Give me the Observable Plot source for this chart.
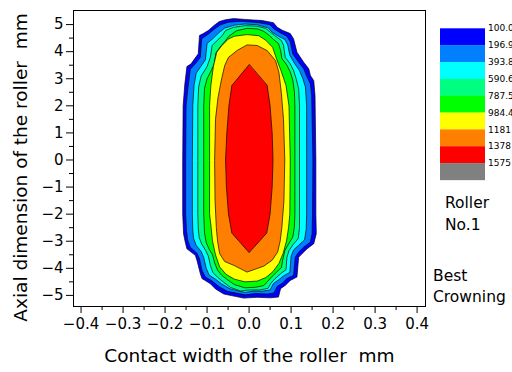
<!DOCTYPE html>
<html>
<head>
<meta charset="utf-8">
<script src="https://cdn.jsdelivr.net/npm/d3@7"></script>
<script src="https://cdn.jsdelivr.net/npm/@observablehq/plot@0.6"></script>
<style>
  html, body { margin: 0; padding: 0; background: #fff; }
  #chart { position: relative; width: 512px; height: 372px; overflow: hidden; }
  #chart svg { position: absolute; left: 0; top: 0; }
</style>
</head>
<body>
<div id="chart"></div>
<script>
// Contact pressure levels (lower bound of each colour band)
const levels = [100.0, 196.9, 393.8, 590.6, 787.5, 984.4, 1181, 1378, 1575];
const levelLabels = ["100.0", "196.9", "393.8", "590.6", "787.5", "984.4", "1181", "1378", "1575"];
const bandColors = ["#0000ff", "#0080ff", "#00ffff", "#00ff80", "#00ff00", "#ffff00", "#ff8000", "#ff0000", "#808080"];

// Tick values
const xTicks = [-0.4, -0.3, -0.2, -0.1, 0, 0.1, 0.2, 0.3, 0.4];
const xMinor = [-0.35, -0.25, -0.15, -0.05, 0.05, 0.15, 0.25, 0.35];
const yTicks = [-5, -4, -3, -2, -1, 0, 1, 2, 3, 4, 5];
const yMinor = [-4.5, -3.5, -2.5, -1.5, -0.5, 0.5, 1.5, 2.5, 3.5, 4.5];

const xLabel = "Contact width of the roller\u00a0\u00a0mm";
const yLabel = "Axial dimension of the roller\u00a0\u00a0mm";

// Iso-pressure outlines [contact width mm, axial position mm], one closed ring per level
const ring100 = [[-0.158,0],[-0.157,2.0],[-0.153,2.8],[-0.148,3.45],[-0.138,3.55],[-0.13,3.73],[-0.121,3.92],[-0.118,4.6],[-0.11,4.66],[-0.097,4.78],[-0.084,4.96],[-0.071,5.11],[-0.056,5.18],[-0.037,5.22],[-0.009,5.19],[0.031,5.15],[0.058,5.07],[0.067,4.9],[0.079,4.79],[0.098,4.67],[0.106,4.47],[0.114,3.98],[0.13,3.61],[0.142,3.37],[0.146,3.12],[0.154,2.93],[0.157,2.38],[0.159,0],[0.159,-2.0],[0.16,-2.72],[0.154,-3.09],[0.138,-3.28],[0.126,-3.46],[0.118,-3.59],[0.114,-4.32],[0.098,-4.45],[0.086,-4.63],[0.075,-4.75],[0.07,-5.06],[0.051,-5.09],[0.019,-5.07],[-0.013,-5.1],[-0.06,-4.95],[-0.08,-4.76],[-0.092,-4.57],[-0.112,-4.38],[-0.116,-4.2],[-0.124,-3.71],[-0.128,-3.52],[-0.148,-3.28],[-0.152,-3.03],[-0.156,-2.72],[-0.158,-2.0]];
const ring197 = [[-0.151,0],[-0.15,2.0],[-0.146,2.6],[-0.14,3.35],[-0.128,3.55],[-0.116,3.79],[-0.113,4.47],[-0.096,4.66],[-0.082,4.84],[-0.068,4.99],[-0.049,5.09],[-0.017,5.12],[0.023,5.07],[0.05,4.99],[0.059,4.84],[0.075,4.69],[0.09,4.57],[0.098,4.37],[0.104,3.92],[0.118,3.61],[0.13,3.37],[0.138,3.06],[0.146,2.81],[0.149,2.38],[0.152,0],[0.151,-2.0],[0.15,-2.72],[0.146,-3.03],[0.13,-3.22],[0.118,-3.4],[0.11,-3.59],[0.106,-4.26],[0.09,-4.38],[0.079,-4.55],[0.067,-4.67],[0.059,-4.91],[0.043,-4.95],[0.015,-4.93],[-0.009,-4.98],[-0.052,-4.85],[-0.072,-4.67],[-0.088,-4.47],[-0.104,-4.32],[-0.112,-4.08],[-0.118,-3.65],[-0.124,-3.44],[-0.14,-3.22],[-0.146,-2.97],[-0.149,-2.6],[-0.151,-2.0]];
const ring394 = [[-0.135,0],[-0.134,2.0],[-0.131,2.75],[-0.126,3.2],[-0.115,3.45],[-0.104,3.7],[-0.1,4.3],[-0.085,4.5],[-0.072,4.7],[-0.058,4.87],[-0.035,4.98],[-0.01,5.02],[0.02,4.99],[0.045,4.88],[0.055,4.72],[0.07,4.57],[0.085,4.45],[0.092,4.25],[0.097,3.87],[0.108,3.57],[0.12,3.3],[0.128,3.0],[0.134,2.7],[0.137,2.0],[0.137,0],[0.137,-2.0],[0.136,-2.55],[0.132,-2.95],[0.118,-3.15],[0.106,-3.32],[0.1,-3.55],[0.097,-4.15],[0.082,-4.28],[0.07,-4.43],[0.058,-4.56],[0.05,-4.8],[0.033,-4.84],[0.01,-4.84],[-0.01,-4.89],[-0.045,-4.76],[-0.065,-4.58],[-0.08,-4.4],[-0.095,-4.25],[-0.102,-4.0],[-0.108,-3.6],[-0.114,-3.38],[-0.126,-3.15],[-0.132,-2.9],[-0.134,-2.6],[-0.135,-2.0]];
const ring591 = [[-0.122,0],[-0.122,2.0],[-0.12,2.7],[-0.114,3.1],[-0.1,3.45],[-0.092,3.8],[-0.088,4.23],[-0.076,4.41],[-0.064,4.59],[-0.056,4.78],[-0.037,4.9],[-0.009,4.96],[0.019,4.94],[0.039,4.86],[0.051,4.72],[0.063,4.57],[0.077,4.41],[0.082,4.23],[0.086,3.79],[0.098,3.55],[0.106,3.3],[0.112,3.0],[0.118,2.63],[0.12,2.0],[0.12,0],[0.12,-2.0],[0.12,-2.5],[0.117,-2.9],[0.105,-3.12],[0.095,-3.35],[0.09,-3.6],[0.088,-4.05],[0.075,-4.2],[0.062,-4.38],[0.052,-4.55],[0.045,-4.74],[0.025,-4.8],[0.0,-4.8],[-0.02,-4.84],[-0.045,-4.7],[-0.06,-4.52],[-0.075,-4.33],[-0.086,-4.16],[-0.092,-3.9],[-0.097,-3.55],[-0.103,-3.35],[-0.113,-3.1],[-0.119,-2.85],[-0.121,-2.5],[-0.122,-2.0]];
const ring788 = [[-0.108,0],[-0.108,2.0],[-0.106,2.65],[-0.1,3.0],[-0.09,3.3],[-0.083,3.55],[-0.079,3.95],[-0.069,4.17],[-0.058,4.37],[-0.048,4.57],[-0.03,4.77],[-0.005,4.86],[0.02,4.84],[0.035,4.75],[0.048,4.6],[0.058,4.45],[0.07,4.3],[0.075,4.05],[0.078,3.75],[0.09,3.5],[0.098,3.25],[0.104,2.95],[0.108,2.5],[0.109,2.0],[0.109,0],[0.109,-2.0],[0.108,-2.45],[0.104,-2.85],[0.094,-3.1],[0.085,-3.35],[0.08,-3.7],[0.077,-3.97],[0.066,-4.13],[0.055,-4.3],[0.045,-4.47],[0.035,-4.64],[0.015,-4.7],[-0.01,-4.72],[-0.035,-4.6],[-0.05,-4.44],[-0.065,-4.26],[-0.075,-4.07],[-0.082,-3.8],[-0.087,-3.5],[-0.095,-3.3],[-0.102,-3.05],[-0.106,-2.7],[-0.108,-2.0]];
const ring984 = [[-0.094,0],[-0.094,2.0],[-0.091,2.75],[-0.085,3.45],[-0.077,3.98],[-0.065,4.22],[-0.05,4.46],[-0.035,4.57],[-0.005,4.63],[0.023,4.59],[0.04,4.42],[0.056,4.16],[0.065,3.75],[0.076,3.3],[0.088,2.75],[0.095,2.0],[0.098,0],[0.097,-2.0],[0.094,-2.5],[0.089,-3.0],[0.081,-3.45],[0.071,-3.82],[0.057,-4.12],[0.04,-4.34],[0.02,-4.47],[-0.01,-4.5],[-0.035,-4.4],[-0.055,-4.22],[-0.07,-3.95],[-0.08,-3.5],[-0.087,-3.0],[-0.091,-2.4],[-0.094,-2.0]];
const ring1181 = [[-0.082,0],[-0.08,1.5],[-0.074,2.3],[-0.066,2.95],[-0.058,3.49],[-0.049,3.79],[-0.028,4.05],[-0.005,4.25],[0.019,4.23],[0.043,4.04],[0.063,3.67],[0.071,3.24],[0.077,2.45],[0.082,1.5],[0.085,0],[0.083,-1.5],[0.078,-2.5],[0.074,-3.0],[0.068,-3.4],[0.055,-3.7],[0.035,-3.92],[-0.005,-4.14],[-0.035,-3.9],[-0.058,-3.75],[-0.07,-3.46],[-0.075,-3.0],[-0.078,-2.5],[-0.081,-1.5]];
const ring1378 = [[0,3.52],[-0.041,2.75],[-0.048,2.0],[-0.053,1.0],[-0.056,0],[-0.054,-1.0],[-0.049,-2.0],[-0.041,-2.7],[0,-3.42],[0.042,-2.7],[0.05,-2.0],[0.055,-1.0],[0.057,0],[0.055,1.0],[0.05,2.0],[0.043,2.75]];

const rings = [ring100, ring197, ring394, ring591, ring788, ring984, ring1181, ring1378];

// Long-format table for the line mark: outer bands first so inner ones paint on top
const contourRows = rings.flatMap((ring, i) =>
  ring.map(([x, y]) => ({level: levels[i], x, y}))
);

const tickFmt = d => (d < 0 ? "\u2212" : "") + Math.abs(d).toFixed(1);
const intFmt = d => (d < 0 ? "\u2212" : "") + Math.abs(d);

const plot = Plot.plot({
  width: 512,
  height: 372,
  marginLeft: 73,
  marginRight: 87,
  marginTop: 10,
  marginBottom: 66,
  style: {fontFamily: "DejaVu Sans, sans-serif", fontSize: "15px", color: "#000", background: "transparent"},
  x: {domain: [-0.418, 0.42]},
  y: {domain: [-5.41, 5.52]},
  color: {type: "ordinal", domain: levels, range: bandColors},
  marks: [
    Plot.line(contourRows, {
      x: "x", y: "y", z: "level", fill: "level",
      stroke: "#000", strokeWidth: 0.8, strokeOpacity: 0.85,
      curve: "linear-closed"
    }),
    Plot.frame({stroke: "#000", strokeWidth: 1}),
    Plot.axisX({ticks: xTicks, tickFormat: tickFmt, tickSize: 7, tickPadding: 5, label: null, fontSize: 15}),
    Plot.axisX({ticks: xMinor, tickFormat: () => "", tickSize: 4, label: null}),
    Plot.axisY({ticks: yTicks, tickFormat: intFmt, tickSize: 7, tickPadding: 3, label: null, fontSize: 15}),
    Plot.axisY({ticks: yMinor, tickFormat: () => "", tickSize: 4, label: null}),
    // axis titles
    Plot.text([xLabel], {frameAnchor: "bottom", text: d => d, dy: 55, fontSize: 18.5}),
    Plot.text([yLabel], {frameAnchor: "left", textAnchor: "middle", text: d => d, rotate: -90, dx: -52, dy: 9, fontSize: 18.5})
  ]
});

const chart = document.getElementById("chart");
chart.appendChild(plot);

// Colour key and annotations on the right
const overlay = d3.select(chart).append("svg")
  .attr("width", 512).attr("height", 372)
  .style("pointer-events", "none")
  .style("font-family", "DejaVu Sans, sans-serif");

const keyTop = 28.3, keyStep = 16.85, keyLeft = 440, keyWidth = 45;
overlay.selectAll("rect.key").data(bandColors).join("rect")
  .attr("x", keyLeft)
  .attr("y", (d, i) => keyTop + i * keyStep)
  .attr("width", keyWidth)
  .attr("height", keyStep + 0.2)
  .attr("fill", d => d);

overlay.selectAll("text.key").data(levelLabels).join("text")
  .attr("x", keyLeft + keyWidth + 3)
  .attr("y", (d, i) => keyTop + i * keyStep)
  .attr("dy", "0.35em")
  .attr("font-size", 9)
  .text(d => d);

const notes = [
  {text: "Roller", x: 445, y: 203},
  {text: "No.1", x: 445, y: 225},
  {text: "Best", x: 433, y: 276},
  {text: "Crowning", x: 433, y: 297}
];
overlay.selectAll("text.note").data(notes).join("text")
  .attr("x", d => d.x)
  .attr("y", d => d.y)
  .attr("dy", "0.35em")
  .attr("font-size", 15.5)
  .text(d => d.text);
</script>
</body>
</html>
